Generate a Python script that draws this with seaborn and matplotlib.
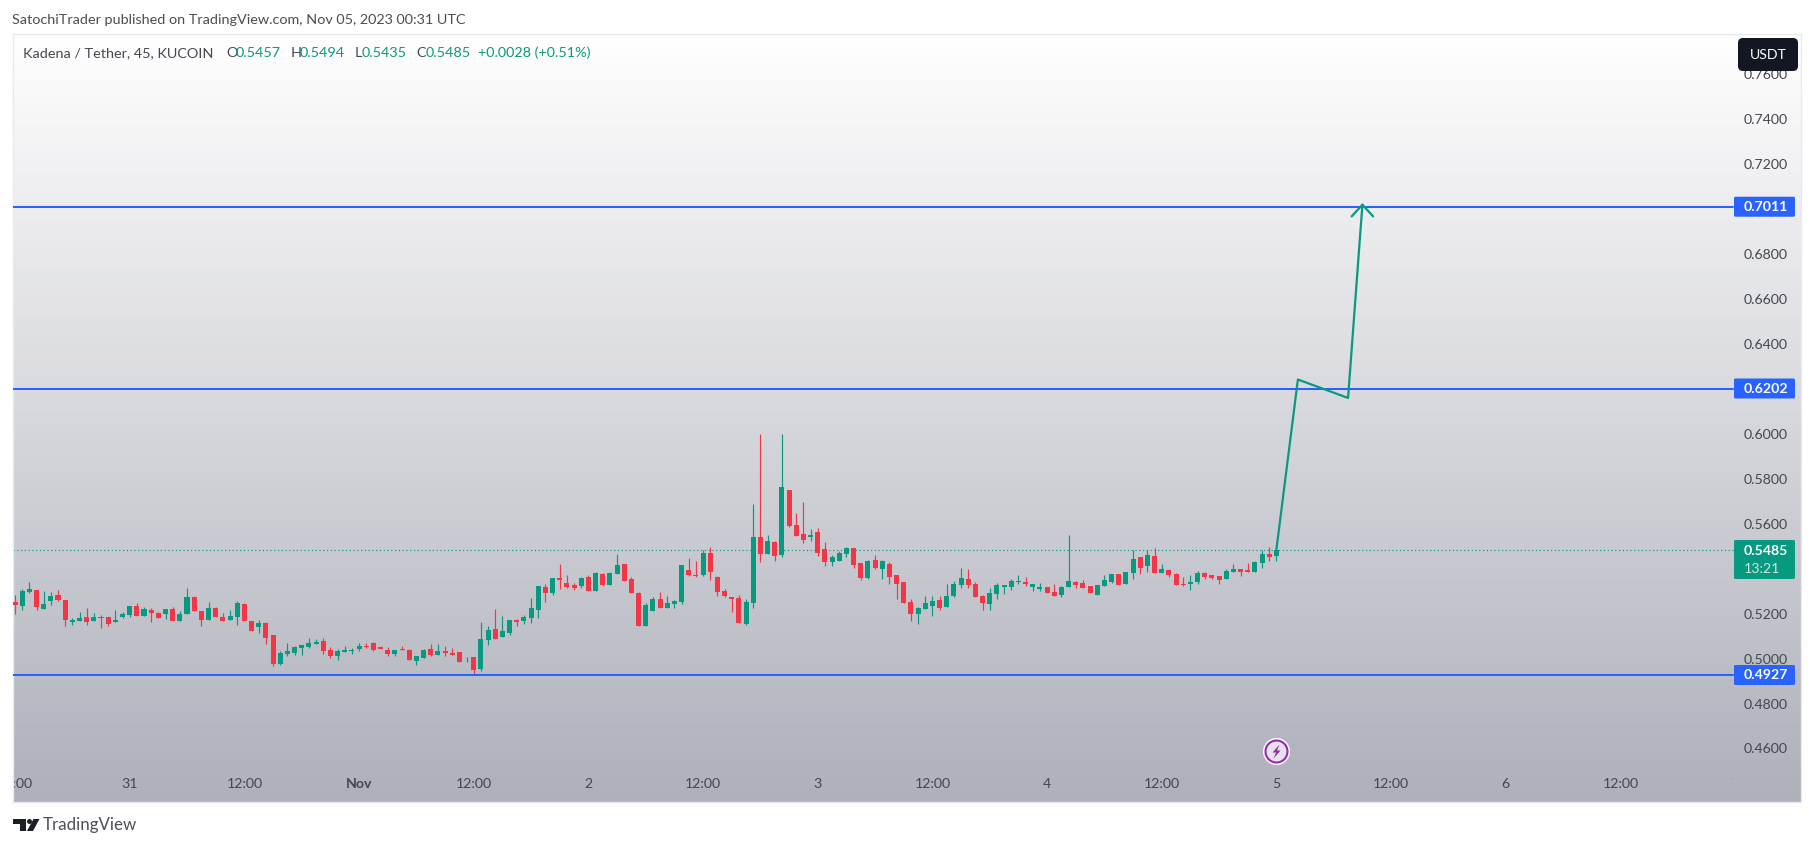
import numpy as np
import pandas as pd
import seaborn as sns
import matplotlib
matplotlib.use("Agg")
import matplotlib.pyplot as plt
from matplotlib.patches import FancyBboxPatch, Polygon, Circle, Rectangle
from matplotlib.transforms import IdentityTransform

opens = [.5252,.5234,.5297,.5305,.5221,.5257,.5283,.5261,.5163,.5168,.5185,.5168,.5187,.5185,.5163,.5185,.5194,.5234,.5190,.5216,
         .5203,.5199,.5221,.5168,.5199,.5274,.5212,.5172,.5225,.5185,.5172,.5185,.5243,.5168,.5141,.5159,.5105,.4976,.5021,.5025,
         .5047,.5052,.5065,.5078,.5038,.5012,.5030,.5034,.5043,.5056,.5070,.5052,.5038,.5021,.5043,.5038,.4989,.5003,.5043,.5016,
         .5034,.5025,.5030,.5001,.5007,.4954,.5083,.5132,.5096,.5114,.5172,.5168,.5181,.5216,.5319,.5292,.5359,.5337,.5328,.5323,
         .5363,.5301,.5377,.5328,.5377,.5421,.5354,.5292,.5145,.5212,.5265,.5225,.5243,.5252,.5394,.5372,.5372,.5470,.5363,.5301,
         .5274,.5270,.5154,.5248,.5541,.5466,.5519,.5461,.5751,.5595,.5555,.5541,.5564,.5488,.5430,.5435,.5466,.5492,.5426,.5359,
         .5439,.5399,.5421,.5372,.5341,.5252,.5199,.5221,.5234,.5261,.5230,.5279,.5328,.5354,.5332,.5279,.5243,.5288,.5319,.5319,
         .5341,.5341,.5319,.5310,.5319,.5297,.5283,.5319,.5341,.5337,.5323,.5283,.5323,.5341,.5377,.5332,.5381,.5452,.5412,.5457,
         .5381,.5394,.5377,.5332,.5332,.5341,.5381,.5372,.5368,.5354,.5386,.5399,.5394,.5386,.5426,.5466,.5457]
highs = [.5283,.5310,.5341,.5305,.5301,.5297,.5305,.5261,.5181,.5208,.5225,.5203,.5194,.5185,.5216,.5208,.5234,.5248,.5230,.5225,
         .5208,.5221,.5230,.5212,.5314,.5279,.5212,.5252,.5230,.5203,.5216,.5257,.5248,.5168,.5172,.5163,.5105,.5034,.5070,.5056,
         .5061,.5092,.5087,.5092,.5052,.5043,.5056,.5047,.5070,.5070,.5074,.5056,.5052,.5038,.5056,.5043,.5012,.5043,.5065,.5065,
         .5056,.5047,.5030,.5007,.5007,.5163,.5145,.5221,.5190,.5172,.5176,.5194,.5270,.5323,.5332,.5359,.5421,.5372,.5337,.5363,
         .5372,.5386,.5381,.5386,.5466,.5421,.5363,.5297,.5248,.5274,.5297,.5279,.5261,.5417,.5448,.5435,.5483,.5497,.5368,.5310,
         .5274,.5283,.5265,.5688,.6000,.5550,.5524,.6000,.5751,.5648,.5697,.5577,.5581,.5519,.5461,.5479,.5497,.5492,.5426,.5439,
         .5461,.5439,.5430,.5372,.5341,.5265,.5230,.5279,.5279,.5279,.5332,.5346,.5403,.5399,.5341,.5283,.5314,.5337,.5328,.5354,
         .5372,.5363,.5332,.5337,.5319,.5332,.5323,.5550,.5346,.5350,.5323,.5328,.5372,.5377,.5377,.5386,.5483,.5452,.5483,.5492,
         .5421,.5399,.5381,.5363,.5372,.5390,.5386,.5372,.5368,.5399,.5421,.5399,.5426,.5435,.5483,.5497,.5494]
lows = [.5199,.5216,.5292,.5216,.5221,.5239,.5257,.5145,.5150,.5168,.5150,.5168,.5136,.5145,.5163,.5181,.5185,.5190,.5190,.5163,
        .5181,.5176,.5168,.5168,.5199,.5212,.5145,.5172,.5185,.5168,.5172,.5150,.5168,.5123,.5114,.5065,.4967,.4972,.5012,.5016,
        .5016,.5047,.5065,.5021,.5003,.4994,.5030,.5021,.5034,.5047,.5034,.5043,.5012,.5012,.5038,.4994,.4972,.5003,.5012,.5016,
        .5012,.5016,.4985,.4985,.4927,.4945,.5061,.5087,.5096,.5105,.5145,.5154,.5159,.5181,.5252,.5283,.5310,.5314,.5305,.5314,
        .5301,.5301,.5323,.5328,.5377,.5346,.5292,.5145,.5145,.5212,.5225,.5225,.5225,.5243,.5368,.5363,.5368,.5350,.5279,.5274,
        .5208,.5159,.5150,.5225,.5430,.5466,.5435,.5452,.5586,.5546,.5515,.5524,.5457,.5412,.5412,.5435,.5452,.5403,.5350,.5354,
        .5399,.5354,.5332,.5265,.5248,.5168,.5154,.5221,.5190,.5216,.5230,.5274,.5314,.5314,.5274,.5216,.5216,.5265,.5288,.5305,
        .5332,.5323,.5301,.5301,.5292,.5279,.5274,.5319,.5314,.5314,.5292,.5283,.5323,.5337,.5328,.5332,.5354,.5377,.5386,.5381,
        .5381,.5363,.5328,.5323,.5305,.5332,.5354,.5354,.5332,.5354,.5386,.5368,.5386,.5386,.5403,.5435,.5435]
closes = [.5239,.5301,.5310,.5230,.5243,.5279,.5261,.5172,.5172,.5181,.5163,.5185,.5181,.5154,.5172,.5199,.5234,.5190,.5221,.5203,
          .5181,.5221,.5168,.5199,.5274,.5212,.5172,.5225,.5185,.5168,.5190,.5248,.5168,.5123,.5159,.5092,.4976,.5025,.5034,.5052,
          .5061,.5070,.5074,.5034,.5012,.5034,.5038,.5038,.5056,.5050,.5038,.5043,.5021,.5038,.5038,.4994,.5012,.5038,.5016,.5034,
          .5025,.5016,.4985,.5004,.4949,.5087,.5127,.5087,.5123,.5172,.5163,.5185,.5225,.5323,.5292,.5359,.5350,.5319,.5314,.5359,
          .5301,.5381,.5328,.5381,.5417,.5346,.5292,.5145,.5239,.5265,.5225,.5248,.5257,.5417,.5372,.5368,.5470,.5386,.5297,.5279,
          .5265,.5159,.5252,.5541,.5466,.5524,.5457,.5764,.5590,.5546,.5528,.5550,.5470,.5430,.5452,.5470,.5492,.5417,.5359,.5435,
          .5403,.5435,.5363,.5332,.5248,.5199,.5225,.5248,.5257,.5225,.5279,.5332,.5359,.5328,.5274,.5248,.5292,.5328,.5328,.5346,
          .5346,.5332,.5332,.5319,.5292,.5279,.5319,.5346,.5328,.5314,.5292,.5328,.5350,.5377,.5328,.5386,.5443,.5403,.5461,.5381,
          .5399,.5372,.5328,.5328,.5341,.5381,.5363,.5359,.5350,.5390,.5399,.5386,.5386,.5430,.5466,.5452,.5485]

level_prices = [0.7011, 0.6202, 0.4927]
level_labels = ["0.7011", "0.6202", "0.4927"]
last_price = 0.5485
path_bars = [176, 179, 186, 188]
path_prices = [0.5485, 0.6242, 0.6160, 0.7020]
head_bars = [186.5, 188, 189.5]
head_prices = [0.6968, 0.7020, 0.6968]
price_ticks = [0.46, 0.48, 0.50, 0.52, 0.54, 0.56, 0.58, 0.60, 0.62, 0.64, 0.66, 0.68, 0.70, 0.72, 0.74, 0.76]
time_tick_bars = [0, 16, 32, 48, 64, 80, 96, 112, 128, 144, 160, 176, 192, 208, 224, 240]
time_tick_labels = ["12:00", "31", "12:00", "Nov", "12:00", "2", "12:00", "3", "12:00", "4", "12:00", "5", "12:00", "6", "12:00", "7"]

W, H = 1814, 847
FONT = "Lato"
GREEN, RED, BLUE = "#089981", "#F23645", "#2962FF"
sns.set_theme(style="white", rc={"font.family": FONT})

fig = plt.figure(figsize=(W / 100, H / 100), dpi=100, facecolor="white")
L, R, T, B = 13, 1801, 34, 802
ax = fig.add_axes([L / W, 1 - B / H, (R - L) / W, (B - T) / H])

# Axis scale: bar pitch 7.167 px, 2247 px per price unit
x0 = (L - 15) / 7.167
x1 = (R - 15) / 7.167
y_top = 0.4927 + (675 - T) / 2247
y_bot = 0.4927 - (B - 675) / 2247
xend = (1733 - 15) / 7.167

top_col = np.array([255, 255, 255]) / 255
bot_col = np.array([174, 176, 186]) / 255
grad = np.linspace(0, 1, 256)[:, None, None] * (bot_col - top_col) + top_col
ax.imshow(grad, extent=[x0, x1, y_bot, y_top], aspect="auto", zorder=0, origin="upper")

df = pd.DataFrame({"o": opens, "h": highs, "l": lows, "c": closes})
df["bar"] = np.arange(len(df))
df["col"] = np.where(df.c >= df.o, GREEN, RED)

ax.vlines(df.bar, df.l, df.h, colors=df.col, linewidth=0.85, zorder=3)
ax.bar(df.bar, (df.c - df.o).abs(), bottom=df[["o", "c"]].min(axis=1), width=0.7,
       color=df.col, linewidth=0, zorder=4)

for p in level_prices:
    sns.lineplot(x=[x0, xend], y=[p, p], ax=ax, color=BLUE, linewidth=1.45, zorder=5, errorbar=None)
sns.lineplot(x=[x0, xend], y=[last_price, last_price], ax=ax, color=GREEN, linewidth=0.85,
             linestyle=(0, (1, 2.2)), zorder=2, errorbar=None)
sns.lineplot(x=path_bars, y=path_prices, ax=ax, color=GREEN, linewidth=1.6, sort=False, zorder=6, errorbar=None)
sns.lineplot(x=head_bars, y=head_prices, ax=ax, color=GREEN, linewidth=1.6, sort=False, zorder=6, errorbar=None)

ax.set_xlim(x0, x1)
ax.set_ylim(y_bot, y_top)
ax.set_xlabel("")
ax.set_ylabel("")
ax.grid(False)

# Time axis
ax.set_xticks(time_tick_bars)
ax.set_xticklabels(time_tick_labels)
ax.tick_params(axis="x", length=0, pad=-17.5, labelsize=10.2, labelcolor="#44474f")
clip_rect = Rectangle((L, 0), 1733 - L, H, transform=IdentityTransform())
for lab in ax.get_xticklabels():
    lab.set_clip_on(True)
    lab.set_clip_path(clip_rect)
    if lab.get_text() == "Nov":
        lab.set_fontweight("bold")

# Price axis
ax.yaxis.tick_right()
ax.set_yticks(price_ticks)
ax.set_yticklabels([f"{v:.4f}" for v in price_ticks])
ax.tick_params(axis="y", length=0, pad=-9.4, labelsize=10.2, labelcolor="#44474f")
for lab in ax.get_yticklabels():
    lab.set_ha("right")

for s in ax.spines.values():
    s.set_color("#e9eaf0")
    s.set_linewidth(1.0)

ID = IdentityTransform()
def px(x, y):
    return (x, H - y)

def box(x0_, y0_, x1_, y1_, color, r=1.5):
    ax.add_patch(FancyBboxPatch(px(x0_, y1_), x1_ - x0_, y1_ - y0_,
                                boxstyle=f"round,pad=0,rounding_size={r}", fc=color, ec="none",
                                transform=ID, clip_on=False, zorder=10))

def label(x, y, s, **kw):
    kw.setdefault("va", "center")
    kw.setdefault("fontsize", 10.2)
    kw.setdefault("zorder", 11)
    return ax.text(*px(x, y), s, transform=ID, clip_on=False, **kw)

for p, s in zip(level_prices, level_labels):
    yc = 675 + (0.4927 - p) * 2247
    box(1734, yc - 10, 1795, yc + 10, BLUE)
    label(1788, yc, s, ha="right", color="white", fontweight="bold")

box(1734, 540, 1795, 579, GREEN)
label(1788, 551, "0.5485", ha="right", color="white", fontweight="bold")
label(1780, 569, "13:21", ha="right", color="#c8e8e0")

box(1738, 38, 1798, 71, "#131722", r=5)
label(1768, 54.5, "USDT", ha="center", color="white", fontsize=10.2)

# Legend line
DARK = "#44474f"
y_leg = 53
for x, s, c in [(23, "Kadena / Tether, 45, KUCOIN", DARK), (226.5, "O", DARK), (236, "0.5457", GREEN),
                (290.5, "H", DARK), (300, "0.5494", GREEN), (354.5, "L", DARK), (362, "0.5435", GREEN),
                (416, "C", DARK), (426, "0.5485", GREEN), (478, "+0.0028 (+0.51%)", GREEN)]:
    label(x, y_leg, s, ha="left", color=c, fontsize=10.4)

# Header and footer
label(11.5, 20, "SatochiTrader published on TradingView.com, Nov 05, 2023 00:31 UTC", ha="left",
      color="#4c4c4c", fontsize=10.4)
label(43, 825, "TradingView", ha="left", color="#4c4f58", fontsize=12.2)
for pts in ([(13, 819), (26, 819), (26, 831), (20, 831), (20, 824), (13, 824)],
            [(33.5, 819), (39.5, 819), (33, 831), (27, 831)]):
    ax.add_patch(Polygon([px(*q) for q in pts], closed=True, fc="#1b1e27", ec="none",
                         transform=ID, clip_on=False, zorder=10))
ax.add_patch(Circle(px(29.5, 821.5), 2.5, fc="#1b1e27", ec="none", transform=ID, clip_on=False, zorder=10))

# Event badge
ax.add_patch(Circle(px(1276.5, 751.5), 13.5, fc="white", ec="none", transform=ID, clip_on=False, zorder=10))
ax.add_patch(Circle(px(1276.5, 751.5), 11, fc="#e6e3ec", ec="#9c27b0", lw=1.5, transform=ID, clip_on=False, zorder=11))
bolt = [(1279.5, 744.5), (1272.5, 752.5), (1276, 752.5), (1273.5, 758.5), (1280.5, 750.5), (1277, 750.5)]
ax.add_patch(Polygon([px(*q) for q in bolt], closed=True, fc="#9c27b0", ec="none",
                     transform=ID, clip_on=False, zorder=12))

leg = ax.get_legend()
if leg:
    leg.remove()

fig.savefig("out.png", dpi=100)
